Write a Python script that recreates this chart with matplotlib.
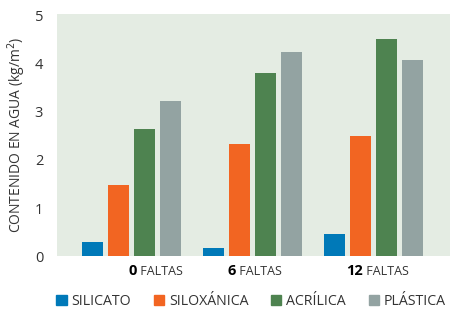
import matplotlib
matplotlib.use('Agg')
import matplotlib.pyplot as plt
import numpy as np
from matplotlib.patches import Patch

plt.rcParams['font.family'] = ['Open Sans', 'DejaVu Sans']

groups = ['0', '6', '12']
series = ['SILICATO', 'SILOXÁNICA', 'ACRÍLICA', 'PLÁSTICA']
silicato = [0.29, 0.17, 0.46]
siloxanica = [1.48, 2.33, 2.50]
acrilica = [2.65, 3.81, 4.52]
plastica = [3.23, 4.25, 4.08]
values = [silicato, siloxanica, acrilica, plastica]
colors = ['#0079B8', '#F26522', '#4E8350', '#93A3A2']

txt = '#333333'
fig = plt.figure(figsize=(4.5, 3.09), dpi=100)
ax = fig.add_axes([0.1267, 0.1715, 0.8733, 0.783])
ax.set_facecolor('#E4ECE3')

x = np.arange(len(groups))
w = 0.18
step = 0.215
for i, (vals, c) in enumerate(zip(values, colors)):
    ax.bar(x + (i - 1.5) * step, vals, w, color=c, label=series[i], zorder=2)

ax.set_xlim(-0.616, 2.632)
ax.set_ylim(0, 5.04)
ax.set_yticks([0, 1, 2, 3, 4, 5])
ax.tick_params(axis='y', length=0, pad=10, labelsize=10.5, labelcolor=txt)
ax.set_xticks([])
for s in ax.spines.values():
    s.set_visible(False)
ax.set_ylabel('CONTENIDO EN AGUA (kg/m$^2$)', fontsize=10, color=txt, labelpad=5)

# group labels: bold number + small "FALTAS"
label_shift = [0.045, -0.136, -0.087]
for g, xi, sh in zip(groups, x, label_shift):
    t = ax.annotate(g, xy=(xi + sh, 0), xycoords=('data', 'axes fraction'),
                    xytext=(0, -6), textcoords='offset points',
                    ha='right', va='top', fontsize=10.5, fontweight='bold', color='black')
    ax.annotate(' FALTAS', xy=(1, 0), xycoords=t, ha='left', va='bottom',
                fontsize=9, color=txt)

handles = [Patch(color=c, label=s) for s, c in zip(series, colors)]
leg = fig.legend(handles=handles, loc='center', bbox_to_anchor=(0.558, 0.025), ncol=4,
                 frameon=False, fontsize=10.2, handlelength=0.72, handleheight=0.72,
                 handletextpad=0.35, columnspacing=1.6, borderpad=0)
for t in leg.get_texts():
    t.set_color(txt)

fig.savefig('out.png', dpi=100)
